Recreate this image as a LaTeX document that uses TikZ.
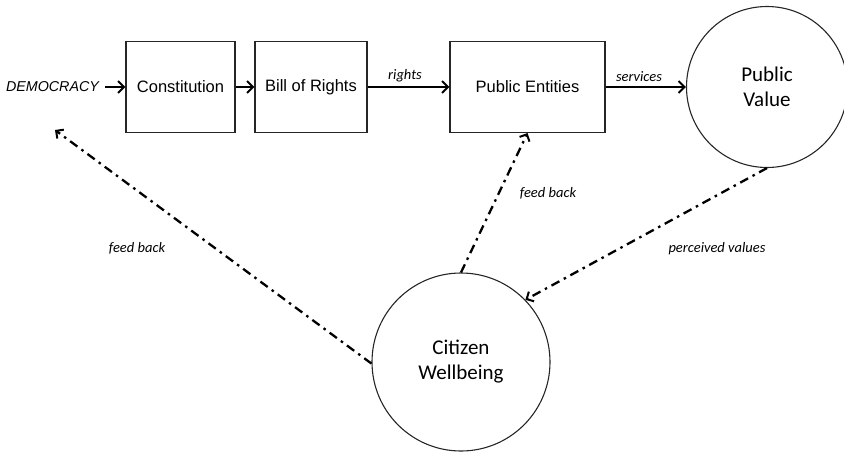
\documentclass[tikz,border=0pt]{standalone}
\usepackage{fontspec}
\setmainfont{Carlito}
\newfontfamily\arialfont{Liberation Sans}
\usetikzlibrary{arrows.meta}
\tikzset{
  boxnode/.style={draw=black!85, line width=1.1pt, minimum width=#1, minimum height=91pt, inner sep=0pt,
    font=\arialfont\fontsize{16.5}{19}\selectfont},
  circnode/.style={draw=black!85, line width=1.1pt, circle, minimum size=#1, inner sep=0pt,
    font=\fontsize{21}{25}\selectfont, align=center},
  lbl/.style={font=\itshape\fontsize{14.5}{17}\selectfont, inner sep=0pt},
  solidarrow/.style={line width=2.1pt, -{Straight Barb[length=6pt,width=12pt,line width=2pt]}},
  dasharrow/.style={line width=2.3pt, dash pattern=on 9pt off 5pt on 2.5pt off 5pt,
    -{Straight Barb[length=5.5pt,width=11pt,line width=2pt]}}
}
\begin{document}
\begin{tikzpicture}[x=1pt,y=-1pt]
\useasboundingbox (0,0) rectangle (844,453);
\node[font=\arialfont\itshape\fontsize{14.3}{17}\selectfont, inner sep=0pt, outer xsep=6pt, anchor=west] (dem) at (0,87) {DEMOCRACY};
\node[boxnode=109pt] (con) at (180.5,87) {Constitution};
\node[boxnode=112pt] (bor) at (311,87) {Bill of Rights};
\node[boxnode=155pt] (pe) at (527.5,87) {Public Entities};
\node[circnode=161pt] (pv) at (767,87) {Public\\Value};
\node[circnode=178pt] (cw) at (461,362) {Citizen\\Wellbeing};
\coordinate (fbtip) at (55,130);

\draw[solidarrow] (dem.east) -- (con.west);
\draw[solidarrow] (con.east) -- (bor.west);
\draw[solidarrow] (bor.east) -- (pe.west);
\draw[solidarrow] (pe.east) -- (pv.west);
\draw[dasharrow] (cw.181) -- (fbtip);
\draw[dasharrow] (cw.north) -- (pe.south);
\draw[dasharrow] (pv.south) -- (cw.44);

\node[lbl] (lrights) at (405,76) {rights};
\node[lbl] (lservices) at (639,77) {services};
\node[lbl] (lfb1) at (137,248) {feed back};
\node[lbl] (lfb2) at (548,193) {feed back};
\node[lbl] (lpv) at (717,249) {perceived values};
\end{tikzpicture}
\end{document}
